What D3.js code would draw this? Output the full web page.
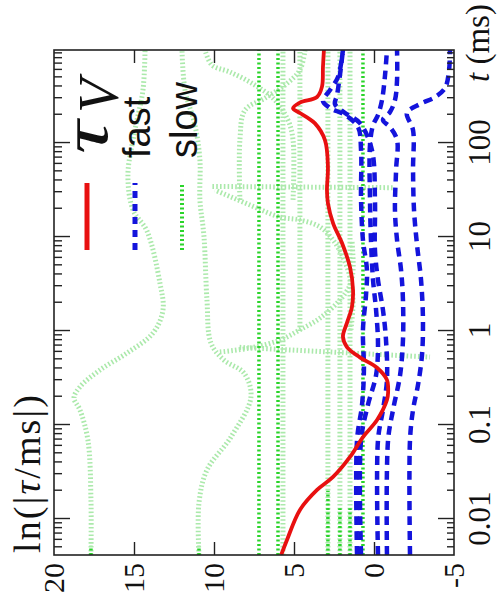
<!DOCTYPE html>
<html><head><meta charset="utf-8">
<script src="https://cdn.jsdelivr.net/npm/d3@7"></script>
<style>body{margin:0;background:#fff}svg{display:block}</style>
</head><body><svg id="c" width="497" height="604"></svg>
<script>
// ---- data ----
const tDomain = [0.00414, 977];
const vDomain = [20, -5];
const tMajor = [0.01, 0.1, 1, 10, 100];
const tLabels = ["0.01", "0.1", "1", "10", "100"];
const vTicks = [20, 15, 10, 5, 0, -5];
const vLabels = ["20", "15", "10", "5", "0", "-5"];

// red solid: tau_V  [t (ms), ln|tau/ms|]
const tauV = [[0.00414,5.8],[0.00598,5.44],[0.0125,4.63],[0.0204,3.56],[0.028,2.56],[0.0457,1.5],[0.0745,0.69],[0.113,-0.19],[0.185,-0.81],[0.219,-0.88],[0.302,-0.81],[0.407,-0.19],[0.525,0.88],[0.676,1.69],[0.871,1.94],[1.22,1.69],[1.80,1.38],[2.73,1.31],[4.79,1.5],[8.63,2.0],[14.1,2.56],[22.9,2.88],[31.6,2.94],[55.6,2.88],[107,3.06],[162,3.69],[209,4.63],[234,5.06],[269,4.63],[309,3.56],[398,3.25],[646,3.19],[977,3.13]];

// blue dashed: fast modes
const fast1 = [[0.00414,1.06],[0.0692,1.06],[0.163,0.75],[0.385,0.63],[1.03,0.69],[2.41,0.5],[4.46,0.44],[9.29,0.69],[24.8,0.81],[84.3,0.81],[148,1.0],[199,1.81],[236,2.75],[280,3.19],[366,2.75],[504,2.25],[977,1.94]];
const fast2 = [[0.00414,0.81],[0.0692,0.81],[0.163,0.38],[0.34,-0.13],[0.71,-0.25],[1.67,-0.13],[3.49,0.06],[9.29,0.19],[24.8,0.25],[95.3,0.25],[155,0.06],[199,-0.25],[286,-0.5],[528,-0.69],[977,-0.81]];
const fast3 = [[0.00414,-0.25],[0.0692,-0.25],[0.145,-0.56],[0.301,-0.81],[0.80,-0.75],[1.67,-0.56],[3.49,-0.25],[7.28,-0.06],[24.8,-0.06],[84.3,0.13],[163,0.88],[209,1.81],[260,2.44],[324,2.31],[528,2.13],[977,1.94]];
const fast4 = [[0.00414,-0.81],[0.0692,-0.88],[0.145,-1.19],[0.34,-1.63],[0.80,-1.81],[2.14,-1.81],[4.46,-1.69],[9.29,-1.44],[19.4,-1.31],[51.6,-1.38],[108,-1.44],[148,-1.0],[176,-0.56],[214,-1.0],[286,-1.31],[468,-1.44],[977,-1.44]];
const fast5 = [[0.00414,-2.25],[0.0692,-2.25],[0.145,-2.44],[0.267,-2.75],[0.556,-3.0],[1.31,-3.06],[3.49,-2.94],[8.22,-2.69],[19.4,-2.5],[51.6,-2.44],[137,-2.44],[209,-2.06],[260,-2.88],[308,-3.81],[385,-4.44],[598,-4.69],[977,-4.75]];

// green dotted: slow modes (bright)
const slow1 = [[0.00414,7.19],[977,7.19]];
const slow2 = [[0.00414,6.0],[977,6.0]];
const slow3 = [[0.00414,0.69],[977,0.69]];
const slowLowA = [[0.00414,17.69],[0.0052,17.69]];
const slowLowB = [[0.00414,10.94],[0.0052,10.94]];
const slowLowC = [[0.00414,2.88],[0.02,2.88]];
const slowLowD = [[0.00414,2.13],[0.013,2.13]];
const slowLowE = [[0.00414,1.5],[0.013,1.5]];

// green dotted: slow modes (faint)
const faintA = [[0.00414,17.69],[0.0159,17.69],[0.0692,17.88],[0.145,18.38],[0.194,18.75],[0.254,18.38],[0.385,17.13],[0.583,15.44],[0.953,13.81],[1.67,13.19],[3.24,13.38],[11.6,14.19],[19.4,15.06],[45.7,15.38],[137,14.94],[366,14.44],[977,14.31]];
const faintB = [[0.00414,10.94],[0.0148,10.94],[0.0332,10.44],[0.0745,8.94],[0.199,7.69],[0.357,8.13],[0.491,9.38],[0.745,10.19],[2.14,10.44],[10.3,10.63],[24.8,10.88],[65.9,10.88],[155,11.19],[366,11.81],[977,12.0]];
const faintC = [[0.00414,5.69],[977,5.69]];
const faintD = [[0.00414,2.88],[977,2.88]];
const faintE = [[0.00414,2.13],[977,2.13]];
const faintF = [[0.00414,1.5],[977,1.5]];
const faintG = [[1.0,4.63],[977,4.63]];
const faintArcL = [[0.598,9.63],[0.659,7.75],[0.80,5.88],[1.03,4.63],[1.37,3.38],[2.14,2.13],[3.08,1.5],[4.46,1.31],[9.29,1.38]];
const faintArcU = [[1.03,1.44],[2.14,1.31],[3.75,1.5],[6.12,1.94],[9.29,2.56],[12.8,3.38],[15.2,4.63],[16.3,5.88],[21.9,7.75],[31.6,9.94]];
const faintSpike1 = [[0.67,8.4],[0.528,-3.5]];
const faintSpike2 = [[34.5,10.1],[33.5,-1.2]];
const faintTop1 = [[24.8,8.38],[108,8.38],[224,8.06],[301,6.81],[414,5.56],[598,4.63],[977,4.31]];
const faintTop2 = [[24.8,5.06],[108,5.06],[176,5.38],[286,6.19],[414,7.44],[569,9.0],[676,10.13],[977,10.56]];

const fastSeries = [fast1, fast2, fast3, fast4, fast5];
const slowSeries = [slow1, slow2, slow3, slowLowA, slowLowB, slowLowC, slowLowD, slowLowE];
const faintSeries = [faintA, faintB, faintC, faintD, faintE, faintF, faintG, faintArcL, faintArcU, faintSpike1, faintSpike2, faintTop1, faintTop2];

// ---- drawing ----
const W = 505, H = 400;
const svg = d3.select("#c");
const g = svg.append("g").attr("transform", "translate(54,555) rotate(-90)");
const x = d3.scaleLog().domain(tDomain).range([0, W]);
const y = d3.scaleLinear().domain(vDomain).range([0, H]);

g.append("clipPath").attr("id", "clip").append("rect").attr("width", W).attr("height", H);
const plot = g.append("g").attr("clip-path", "url(#clip)");
const smooth = d3.line().x(d => x(d[0])).y(d => y(d[1])).curve(d3.curveCatmullRom.alpha(0.5));
const straight = d3.line().x(d => x(d[0])).y(d => y(d[1]));

const GREEN_FAINT = "#abe9ab", GREEN = "#2ad42a", BLUE = "#1414dc", RED = "#e81010";

faintSeries.forEach(s => plot.append("path").attr("d", s.length > 2 ? smooth(s) : straight(s))
  .attr("fill", "none").attr("stroke", GREEN_FAINT).attr("stroke-width", 5).attr("stroke-dasharray", "1.6,2.2"));
slowSeries.forEach(s => plot.append("path").attr("d", straight(s))
  .attr("fill", "none").attr("stroke", GREEN).attr("stroke-width", 3.5).attr("stroke-dasharray", "2,2.5"));
fastSeries.forEach(s => plot.append("path").attr("d", smooth(s))
  .attr("fill", "none").attr("stroke", BLUE).attr("stroke-width", 4.5).attr("stroke-dasharray", "9,6"));
plot.append("path").attr("d", smooth(tauV))
  .attr("fill", "none").attr("stroke", RED).attr("stroke-width", 3.8);

// axes
const serif = "'Liberation Serif','DejaVu Serif',serif";
const minor = x.ticks().filter(t => Math.abs(Math.log10(t) - Math.round(Math.log10(t))) > 1e-6);
function styleAxis(a, fs) {
  a.select(".domain").remove();
  a.selectAll("line").attr("stroke", "#222").attr("stroke-width", 1.4);
  a.selectAll("text").attr("font-family", serif).attr("font-size", fs || 30).attr("fill", "#111");
}
const axB = g.append("g").attr("transform", `translate(0,${H})`)
  .call(d3.axisBottom(x).tickValues(tMajor).tickSize(-16).tickPadding(14).tickFormat((d, i) => tLabels[i]));
styleAxis(axB, 31);
const axBm = g.append("g").attr("transform", `translate(0,${H})`)
  .call(d3.axisBottom(x).tickValues(minor).tickSize(-7).tickFormat(""));
styleAxis(axBm);
const axT = g.append("g").call(d3.axisTop(x).tickValues(tMajor).tickSize(-16).tickFormat(""));
styleAxis(axT);
const axTm = g.append("g").call(d3.axisTop(x).tickValues(minor).tickSize(-8).tickFormat(""));
styleAxis(axTm);
const axL = g.append("g").call(d3.axisLeft(y).tickValues(vTicks).tickSize(-13).tickPadding(8).tickFormat((d, i) => vLabels[i]));
styleAxis(axL, 30);
axL.selectAll("line").filter(d => d === 20 || d === -5).remove();
const axR = g.append("g").attr("transform", `translate(${W},0)`)
  .call(d3.axisRight(y).tickValues(vTicks.filter(v => v !== 20 && v !== -5)).tickSize(-13).tickFormat(""));
styleAxis(axR);

g.append("rect").attr("width", W).attr("height", H).attr("fill", "none").attr("stroke", "#222").attr("stroke-width", 1.6);

// axis titles
const yl = g.append("text").attr("x", 2).attr("y", -14).attr("font-family", serif).attr("font-size", 38).attr("fill", "#111")
  .attr("textLength", 158).attr("lengthAdjust", "spacing");
yl.append("tspan").text("ln(|");
yl.append("tspan").attr("font-style", "italic").text("τ");
yl.append("tspan").text("/ms|)");
const xl = g.append("text").attr("x", 473).attr("y", 435).attr("font-family", serif).attr("font-size", 33).attr("fill", "#111");
xl.append("tspan").attr("font-style", "italic").text("t");
xl.append("tspan").text(" (ms)");

// legend
const sans = "'Liberation Sans', Arial, sans-serif";
g.append("text").attr("transform", "translate(401,53) scale(1.5,1.05)").attr("font-family", serif).attr("font-style", "italic").attr("font-size", 62).attr("fill", "#111").text("τ");
g.append("text").attr("x", 442).attr("y", 64).attr("font-family", serif).attr("font-style", "italic").attr("font-size", 56).attr("fill", "#111").text("V");
g.append("text").attr("x", 397).attr("y", 96).attr("font-family", sans).attr("font-size", 38).attr("fill", "#111").text("fast");
g.append("text").attr("x", 397).attr("y", 143).attr("font-family", sans).attr("font-size", 38).attr("fill", "#111").text("slow");
g.append("line").attr("x1", 305).attr("x2", 372).attr("y1", 33).attr("y2", 33).attr("stroke", RED).attr("stroke-width", 5);
g.append("line").attr("x1", 305).attr("x2", 372).attr("y1", 81).attr("y2", 81).attr("stroke", BLUE).attr("stroke-width", 5).attr("stroke-dasharray", "7,6");
g.append("line").attr("x1", 305).attr("x2", 372).attr("y1", 128).attr("y2", 128).attr("stroke", GREEN).attr("stroke-width", 4).attr("stroke-dasharray", "2,2.5");
</script>
</body></html>
